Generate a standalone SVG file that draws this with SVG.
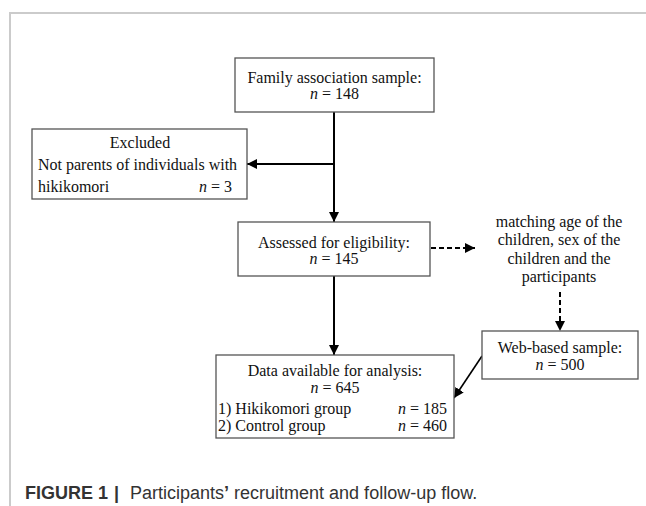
<svg xmlns="http://www.w3.org/2000/svg" width="646" height="506" viewBox="0 0 646 506">
<defs>
<style>
.box{fill:#fff;stroke:#555;stroke-width:1.3}
.t{font-family:"Liberation Serif","Times New Roman",serif;font-size:16px;fill:#111}
.c{text-anchor:middle}
.e{text-anchor:end}
.i{font-style:italic}
.ln{stroke:#000;stroke-width:2;fill:none}
.dash{stroke-dasharray:5,3}
.frame{stroke:#cbcbcb;stroke-width:2;fill:none}
.cap{font-family:"Liberation Sans",Arial,sans-serif;font-size:18px;fill:#333}
</style>
<marker id="ah" markerUnits="userSpaceOnUse" markerWidth="10" markerHeight="10" viewBox="0 0 10 10" refX="10" refY="5" orient="auto">
<path d="M0,0 L10,5 L0,10 Z" fill="#000"/>
</marker>
</defs>
<rect width="646" height="506" fill="#fff"/>
<path class="frame" d="M10,506 V13 H646"/>
<g id="connectors">
<line class="ln" x1="334" y1="112" x2="334" y2="222" marker-end="url(#ah)"/>
<line class="ln" x1="334" y1="164" x2="247" y2="164" marker-end="url(#ah)"/>
<line class="ln" x1="334" y1="276" x2="334" y2="355" marker-end="url(#ah)"/>
<line class="ln dash" x1="431" y1="248" x2="475" y2="248" marker-end="url(#ah)"/>
<line class="ln dash" x1="560" y1="292" x2="560" y2="331" marker-end="url(#ah)"/>
<line class="ln" style="stroke-width:1.6" x1="482" y1="356" x2="454" y2="398" marker-end="url(#ah)"/>
</g>
<g id="family">
<rect class="box" x="235" y="58" width="199" height="54"/>
<text class="t c" x="334.5" y="83">Family association sample:</text>
<text class="t c" x="334.5" y="99"><tspan class="i">n</tspan> = 148</text>
</g>
<g id="excluded">
<rect class="box" x="32" y="129" width="215" height="70"/>
<text class="t c" x="140" y="148">Excluded</text>
<text class="t" x="38" y="170">Not parents of individuals with</text>
<text class="t" x="38" y="192">hikikomori</text>
<text class="t e" x="232" y="192"><tspan class="i">n</tspan> = 3</text>
</g>
<g id="assessed">
<rect class="box" x="238" y="222" width="192" height="54"/>
<text class="t c" x="334" y="248">Assessed for eligibility:</text>
<text class="t c" x="334" y="264"><tspan class="i">n</tspan> = 145</text>
</g>
<g id="matching">
<text class="t c" x="559" y="227">matching age of the</text>
<text class="t c" x="559" y="245">children, sex of the</text>
<text class="t c" x="559" y="264">children and the</text>
<text class="t c" x="559" y="282">participants</text>
</g>
<g id="web">
<rect class="box" x="482" y="331" width="156" height="48"/>
<text class="t c" x="560" y="353">Web-based sample:</text>
<text class="t c" x="560" y="370"><tspan class="i">n</tspan> = 500</text>
</g>
<g id="data">
<rect class="box" x="216" y="355" width="238" height="83"/>
<text class="t c" x="335" y="376">Data available for analysis:</text>
<text class="t c" x="335" y="393"><tspan class="i">n</tspan> = 645</text>
<text class="t" x="218" y="414">1) Hikikomori group</text>
<text class="t e" x="447" y="414"><tspan class="i">n</tspan> = 185</text>
<text class="t" x="218" y="431">2) Control group</text>
<text class="t e" x="447" y="431"><tspan class="i">n</tspan> = 460</text>
</g>
<g id="caption">
<text class="cap" x="25" y="499"><tspan font-weight="bold">FIGURE 1</tspan><tspan x="114" font-weight="bold">|</tspan><tspan x="130">Participants</tspan><tspan font-weight="bold">’</tspan><tspan> recruitment and follow-up flow.</tspan></text>
</g>
</svg>
